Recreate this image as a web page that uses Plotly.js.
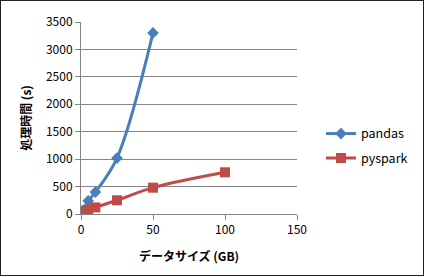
<!DOCTYPE html>
<html><head><meta charset="utf-8">
<script src="https://cdn.plot.ly/plotly-3.0.1.min.js"></script>
<style>html,body{margin:0;padding:0;background:#fff}#c{width:425px;height:277px;box-sizing:border-box;}
#wrap{position:relative;width:425px;height:277px}
#frame{position:absolute;left:0;top:0;width:422px;height:274px;border:1px solid #222;pointer-events:none}</style>
</head><body><div id="wrap"><div id="c"></div><div id="frame"></div></div>
<script>
const pandasX = [1, 5, 10, 25, 50];
const pandasY = [60, 240, 400, 1020, 3300];
const pysparkX = [1, 5, 10, 25, 50, 100];
const pysparkY = [40, 80, 120, 250, 480, 760];
const seriesNames = ['pandas', 'pyspark'];
const xTitle = 'データサイズ (GB)';
const yTitle = '処理時間 (s)';

const font = 'Noto Sans CJK JP, Noto Sans, DejaVu Sans, sans-serif';
const traces = [
  {x: pandasX, y: pandasY, name: seriesNames[0], type: 'scatter', mode: 'lines+markers',
   line: {color: '#4a7ebb', width: 3, shape: 'spline', smoothing: 1},
   marker: {symbol: 'diamond', size: 9, color: '#4a7ebb'}, legend: 'legend'},
  {x: pysparkX, y: pysparkY, name: seriesNames[1], type: 'scatter', mode: 'lines+markers',
   line: {color: '#be4b48', width: 3, shape: 'spline', smoothing: 1},
   marker: {symbol: 'square', size: 10, color: '#be4b48'}, legend: 'legend2'}
];
const layout = {
  width: 425, height: 277,
  margin: {l: 81, r: 128, t: 22, b: 63},
  paper_bgcolor: '#fff', plot_bgcolor: '#fff',
  font: {family: font, size: 12, color: '#000'},
  showlegend: true,
  xaxis: {range: [0, 150], dtick: 50, showgrid: false, zeroline: false,
    showline: true, linecolor: '#868686', linewidth: 1, ticks: 'outside', ticklen: 5, tickcolor: '#868686',
    title: {text: xTitle, font: {family: font, size: 12, weight: 'bold'}, standoff: 16},
    tickfont: {size: 12}},
  yaxis: {range: [0, 3500], dtick: 500, showgrid: true, gridcolor: '#868686', gridwidth: 1, zeroline: false,
    showline: true, linecolor: '#868686', linewidth: 1, ticks: 'outside', ticklen: 5, tickcolor: '#868686',
    title: {text: yTitle, font: {family: font, size: 12, weight: 'bold'}, standoff: 11},
    tickfont: {size: 12}},
  legend: {x: 1.111, xanchor: 'left', y: 0.417, yanchor: 'middle', font: {size: 12.5}, bgcolor: 'rgba(0,0,0,0)'},
  legend2: {x: 1.111, xanchor: 'left', y: 0.29, yanchor: 'middle', font: {size: 12.5}, bgcolor: 'rgba(0,0,0,0)'}
};
Plotly.newPlot('c', traces, layout, {displayModeBar: false, staticPlot: true});
</script></body></html>
